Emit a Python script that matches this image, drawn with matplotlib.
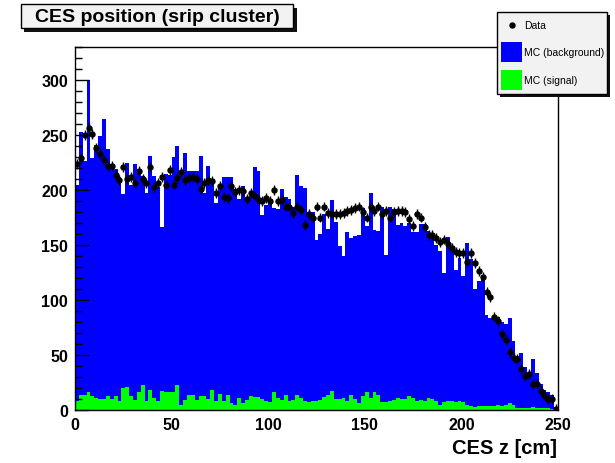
import numpy as np
import matplotlib.pyplot as plt
from matplotlib.patches import Rectangle
from matplotlib.lines import Line2D

plt.rcParams['font.family'] = ['Liberation Sans', 'DejaVu Sans']

# 125 bins of 2 cm from 0 to 250
bin_edges = np.arange(0, 252, 2)

# blue histogram top (background + signal stacked)
mc_stack = [
    205, 253, 226, 300, 229, 241, 249, 265, 237, 223,
    219, 212, 196, 225, 205, 224, 219, 213, 197, 231,
    213, 203, 166, 215, 214, 230, 240, 217, 234, 217,
    217, 217, 231, 197, 222, 207, 188, 203, 212, 212,
    212, 201, 192, 204, 191, 195, 221, 217, 177, 186,
    188, 184, 183, 201, 194, 192, 185, 214, 204, 202,
    180, 180, 155, 160, 178, 165, 191, 171, 149, 140,
    162, 156, 158, 159, 184, 167, 197, 164, 163, 185,
    141, 185, 183, 168, 170, 167, 170, 162, 162, 169,
    169, 163, 159, 150, 145, 125, 157, 146, 127, 138,
    122, 152, 137, 110, 117, 123, 86, 84, 83, 85,
    80, 78, 84, 63, 49, 52, 39, 34, 46, 34,
    24, 18, 16, 14, 3,
]

# signal MC
mc_signal = [
    8, 14, 14, 16, 13, 11, 10, 10, 13, 10,
    13, 8, 20, 21, 13, 9, 16, 23, 8, 18,
    11, 8, 17, 16, 16, 16, 23, 5, 9, 14,
    14, 9, 13, 13, 10, 18, 8, 15, 8, 14,
    6, 5, 11, 6, 9, 13, 12, 12, 10, 8,
    7, 16, 11, 9, 14, 8, 9, 14, 11, 8,
    7, 8, 8, 9, 12, 14, 17, 10, 10, 11,
    8, 14, 10, 6, 13, 16, 11, 16, 14, 7,
    7, 8, 9, 11, 10, 10, 13, 11, 8, 9,
    8, 11, 10, 8, 5, 7, 8, 8, 7, 8,
    7, 5, 4, 3, 4, 4, 4, 4, 4, 5,
    4, 5, 6, 5, 2, 2, 2, 2, 3, 2,
    2, 2, 2, 1, 1,
]

# data points
data = [
    224, 229, 250, 256, 251, 238, 233, 227, 222, 222,
    214, 209, 221, 210, 212, 206, 217, 210, 206, 221,
    203, 206, 212, 205, 218, 205, 211, 216, 209, 211,
    212, 210, 201, 206, 209, 208, 197, 204, 194, 193,
    204, 198, 200, 199, 192, 197, 195, 191, 190, 193,
    190, 200, 190, 191, 185, 185, 179, 185, 182, 168,
    178, 175, 185, 175, 185, 179, 178, 178, 178, 179,
    181, 182, 184, 185, 180, 175, 185, 181, 185, 178,
    181, 175, 180, 181, 181, 180, 174, 167, 178, 175,
    166, 159, 159, 156, 153, 155, 151, 147, 144, 143,
    143, 135, 143, 134, 126, 121, 107, 103, 85, 81,
    69, 64, 53, 47, 46, 37, 31, 33, 24, 24,
    17, 14, 10, 10, 1,
]
data_err = 4.5

W, H = 615, 464
fig = plt.figure(figsize=(W / 100, H / 100), dpi=100)


def frac(x0, y0, x1, y1):
    # pixel box (top-left origin) -> figure fraction rect
    return [x0 / W, 1 - y1 / H, (x1 - x0) / W, (y1 - y0) / H]


def pave(x0, y0, x1, y1, off=3.5):
    # box with a dark drop shadow
    sx, sy, sw, sh = frac(x0 + off, y0 + off, x1 + off, y1 + off)
    fig.add_artist(Rectangle((sx, sy), sw, sh, transform=fig.transFigure,
                             facecolor='#111111', edgecolor='none', zorder=5))
    bx, by, bw, bh = frac(x0, y0, x1, y1)
    fig.add_artist(Rectangle((bx, by), bw, bh, transform=fig.transFigure,
                             facecolor='#f2f2f2', edgecolor='black', lw=1, zorder=6))


ax = fig.add_axes(frac(75, 48, 558, 411))
ax.stairs(mc_stack, bin_edges, fill=True, color='#0000ff', lw=0)
ax.stairs(mc_signal, bin_edges, fill=True, color='#00ff00', lw=0)
centers = (bin_edges[:-1] + bin_edges[1:]) / 2
ax.errorbar(centers, data, yerr=data_err, fmt='o', ms=3.6, color='black',
            elinewidth=1, capsize=0, zorder=3)

ax.set_xlim(0, 250)
ax.set_ylim(0, 330)
ax.set_xticks(np.arange(0, 251, 50))
ax.set_yticks(np.arange(0, 301, 50))
ax.set_yticks(np.arange(0, 331, 10), minor=True)
ax.tick_params(axis='y', which='major', direction='in', length=10, width=1,
               pad=5, labelsize=11.5)
ax.tick_params(axis='y', which='minor', direction='in', length=5, width=1)
ax.tick_params(axis='x', which='both', length=0, pad=5, labelsize=11.5)
for lab in ax.get_xticklabels() + ax.get_yticklabels():
    lab.set_fontweight('bold')
for sp in ax.spines.values():
    sp.set_linewidth(1)

fig.text(557 / W, 1 - 449 / H, 'CES z [cm]', ha='right', va='center',
         fontsize=14.5, fontweight='bold')

# title pave
pave(20.7, 5, 293, 29.3)
fig.text(157 / W, 1 - 17.5 / H, 'CES position (srip cluster)', ha='center',
         va='center', fontsize=14, fontweight='bold', zorder=7)

# legend
pave(497, 13, 607, 95, off=3.3)
fig.add_artist(Line2D([512 / W], [1 - 26 / H], marker='o', ms=3.6,
                      color='black', transform=fig.transFigure, zorder=7))
for (y0, y1), col in [((43.3, 63.3), '#0000ff'), ((70.7, 90.7), '#00ff00')]:
    bx, by, bw, bh = frac(501, y0, 521.7, y1)
    fig.add_artist(Rectangle((bx, by), bw, bh, transform=fig.transFigure,
                             facecolor=col, edgecolor='none', zorder=7))
for y, s in [(26, 'Data'), (53.5, 'MC (background)'), (81, 'MC (signal)')]:
    fig.text(524 / W, 1 - y / H, s, ha='left', va='center', fontsize=7.5,
             zorder=8)

fig.savefig('out.png', dpi=100)
